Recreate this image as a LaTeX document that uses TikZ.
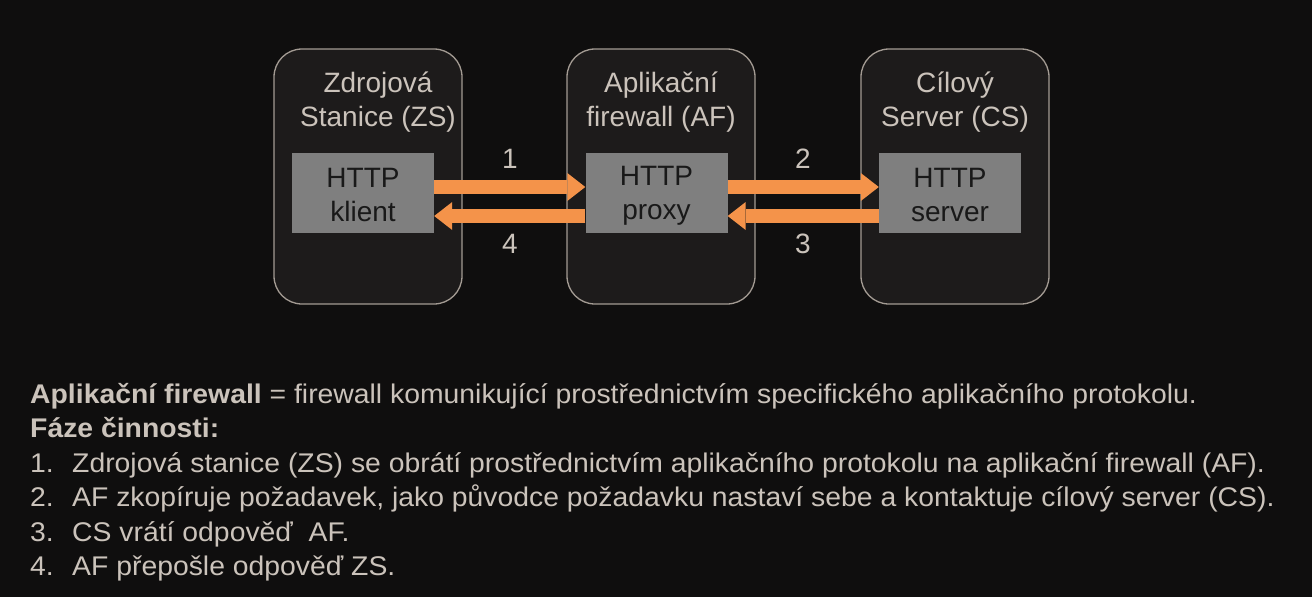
\documentclass[tikz,border=0pt]{standalone}
\usepackage{fontspec}
\setmainfont{Liberation Sans}
\newfontfamily\descfont[FakeStretch=1.05]{Liberation Sans}
\usetikzlibrary{arrows.meta}
\definecolor{bg}{HTML}{0F0E0E}
\definecolor{boxfill}{HTML}{1D1B1B}
\definecolor{boxline}{HTML}{A39B93}
\definecolor{inner}{HTML}{7F7F7F}
\definecolor{txt}{HTML}{CBC3BB}
\definecolor{flowc}{HTML}{F4934A}
\newcommand\tallstrut{\rule{0pt}{24pt}}
\begin{document}
\begin{tikzpicture}[x=1pt,y=-1pt,
  station/.style={draw=boxline, line width=1.3pt, fill=boxfill, rounded corners=28pt,
    minimum width=188pt, minimum height=255pt, inner sep=0pt},
  title/.style={text=txt, font=\fontsize{28}{34}\selectfont, anchor=base, inner sep=0pt},
  app/.style={fill=inner, minimum width=142pt, minimum height=80pt, inner sep=0pt,
    text=black!90, font=\fontsize{28}{34}\selectfont, align=center},
  flow/.style={draw=flowc, line width=14pt,
    -{Triangle[length=18pt,width=28pt,line width=0pt]}},
  num/.style={text=txt, font=\fontsize{28}{34}\selectfont, anchor=base, inner sep=0pt},
  para/.style={text=txt, font=\descfont\fontsize{27}{32}\selectfont, anchor=base west, inner sep=0pt}]
\fill[bg] (0,0) rectangle (1312,597);
\useasboundingbox (0,0) rectangle (1312,597);

% stations
\node[station] (zs) at (368,176.5) {};
\node[station] (af) at (661,176.5) {};
\node[station] (cs) at (955,176.5) {};

\node[title] (zs1) at (378,92) {Zdrojová};
\node[title] (zs2) at (378,126) {Stanice (ZS)};
\node[title] (af1) at (661,92) {Aplikační};
\node[title] (af2) at (661,126) {firewall (AF)};
\node[title] (cs1) at (955,92) {Cílový};
\node[title] (cs2) at (955,126) {Server (CS)};

% application components
\node[app] (klient) at (363,193) {\tallstrut HTTP\\klient};
\node[app] (proxy) at (656.5,193) {\tallstrut HTTP\\proxy};
\node[app] (server) at (950,193) {\tallstrut HTTP\\server};

% request / response flows
\draw[flow] ([yshift=6pt]klient.east) -- ([yshift=6pt]proxy.west);
\draw[flow] ([yshift=-23pt]proxy.west) -- ([yshift=-23pt]klient.east);
\draw[flow] ([yshift=6pt]proxy.east) -- ([yshift=6pt]server.west);
\draw[flow] ([yshift=-23pt]server.west) -- ([yshift=-23pt]proxy.east);

\node[num] (n1) at (510,168) {1};
\node[num] (n4) at (510,253) {4};
\node[num] (n2) at (803,168) {2};
\node[num] (n3) at (803,253) {3};

% description
\node[para] (d0) at (30,403) {\textbf{Aplikační firewall} = firewall komunikující prostřednictvím specifického aplikačního protokolu.};
\node[para] (d1) at (30,437.5) {\textbf{Fáze činnosti:}};
\node[para] (s1) at (30,472) {\makebox[42pt][l]{1.}Zdrojová stanice (ZS) se obrátí prostřednictvím aplikačního protokolu na aplikační firewall (AF).};
\node[para] (s2) at (30,506.5) {\makebox[42pt][l]{2.}AF zkopíruje požadavek, jako původce požadavku nastaví sebe a kontaktuje cílový server (CS).};
\node[para] (s3) at (30,541) {\makebox[42pt][l]{3.}CS vrátí odpověď~ AF.};
\node[para] (s4) at (30,575.5) {\makebox[42pt][l]{4.}AF přepošle odpověď ZS.};
\end{tikzpicture}
\end{document}
